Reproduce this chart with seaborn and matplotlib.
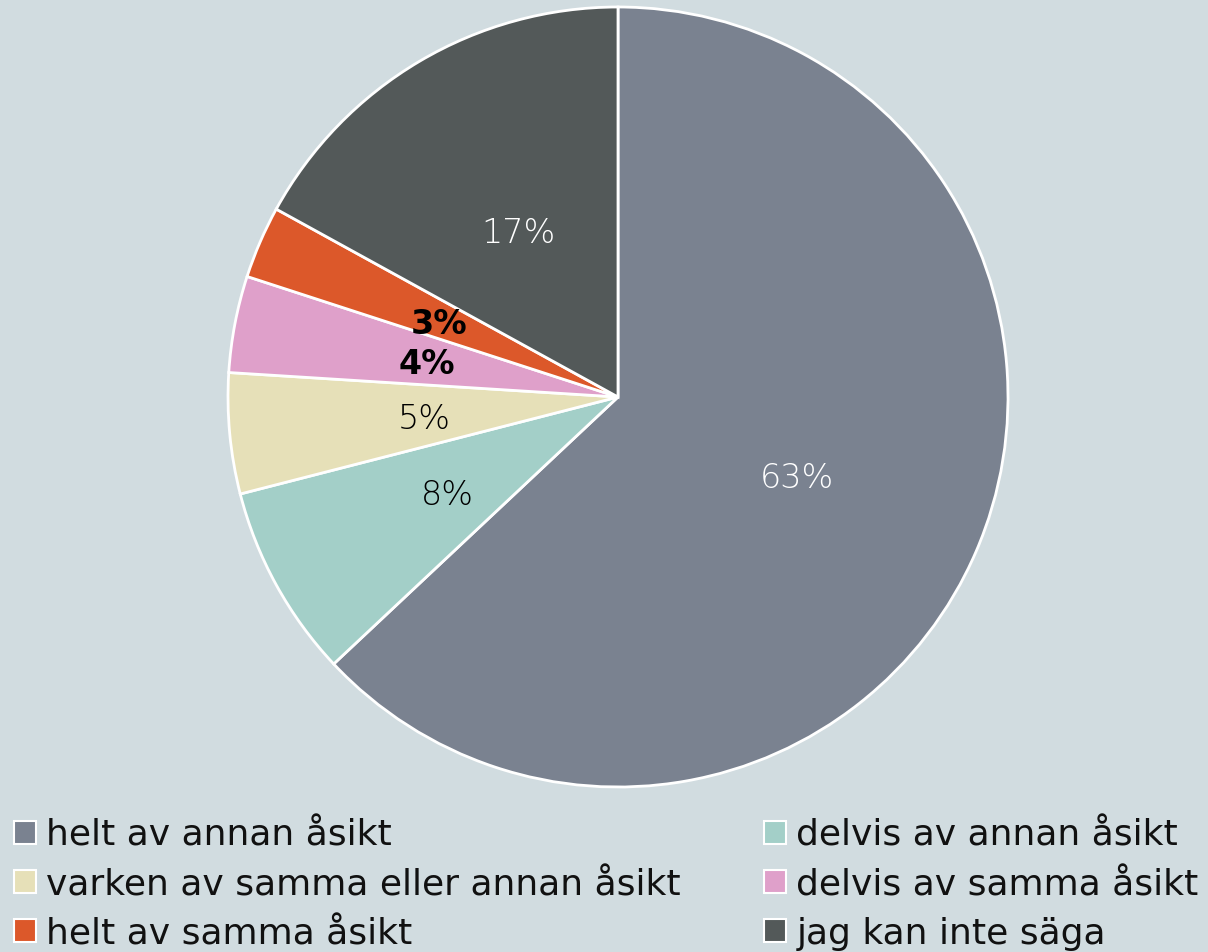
import matplotlib
matplotlib.use("Agg")
import matplotlib.pyplot as plt
import seaborn as sns
from matplotlib.patches import Patch

# data
categories = [
    "helt av annan åsikt",
    "delvis av annan åsikt",
    "varken av samma eller annan åsikt",
    "delvis av samma åsikt",
    "helt av samma åsikt",
    "jag kan inte säga",
]
shares = [63, 8, 5, 4, 3, 17]
colors = ["#7A8290", "#A3CFC8", "#E6E0B8", "#DFA0CA", "#DC582A", "#535959"]
label_colors = ["white", "black", "black", "black", "black", "white"]
label_bold = [False, False, False, True, True, False]

bg = "#D1DCE0"
sns.set_theme(style="white")
plt.rcParams["font.family"] = ["DejaVu Sans"]

fig = plt.figure(figsize=(12.08, 9.53), dpi=100)
fig.patch.set_facecolor(bg)

# pie centre (618, 398) px, radius 390 px
W, H = 1208, 953
cx, cy, r = 618, 398, 390
ax = fig.add_axes([(cx - r) / W, (H - cy - r) / H, 2 * r / W, 2 * r / H])
ax.set_facecolor(bg)

palette = sns.color_palette(colors)
wedges, texts, autotexts = ax.pie(
    shares,
    colors=palette,
    startangle=90,
    counterclock=False,
    autopct=lambda p: f"{p:.0f}%",
    pctdistance=0.5,
    wedgeprops=dict(edgecolor="white", linewidth=2, clip_on=False),
    radius=1,
)
for t, c, b in zip(autotexts, label_colors, label_bold):
    t.set_color(c)
    t.set_fontsize(24)
    t.set_va("center_baseline")
    if b:
        t.set_fontweight("bold")
    else:
        t.set_fontweight("light")
ax.set_xlim(-1, 1)
ax.set_ylim(-1, 1)
ax.set_aspect("equal")
ax.axis("off")

handles = [Patch(facecolor=c, edgecolor="white", linewidth=1.5) for c in colors]
leg_kw = dict(frameon=False, fontsize=26, handlelength=0.6, handleheight=0.6,
              handletextpad=0.3, labelspacing=0.42, borderpad=0, borderaxespad=0,
              loc="upper left", labelcolor="#111111")
left = [0, 2, 4]
right = [1, 3, 5]
fig.legend([handles[i] for i in left], [categories[i] for i in left],
           bbox_to_anchor=(14 / W, 1 - 819 / H), **leg_kw)
fig.legend([handles[i] for i in right], [categories[i] for i in right],
           bbox_to_anchor=(764 / W, 1 - 819 / H), **leg_kw)

fig.savefig("out.png", dpi=100, facecolor=bg)
